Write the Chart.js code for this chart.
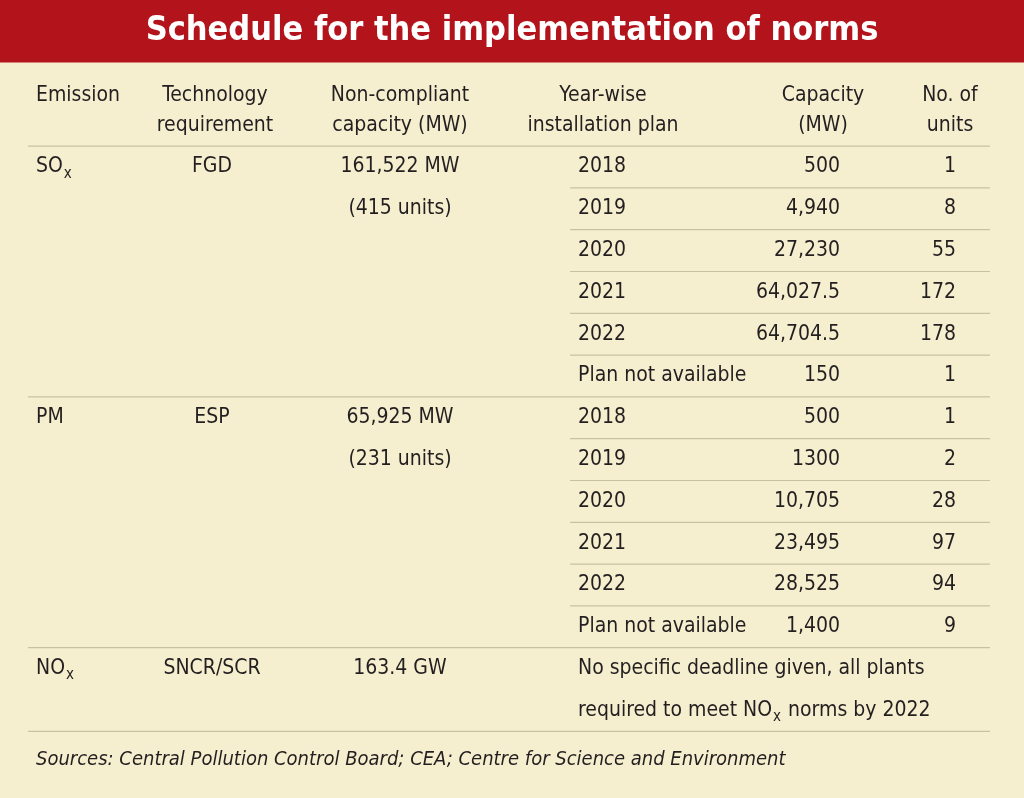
<!DOCTYPE html>
<html>
<head>
<meta charset="utf-8">
<script src="https://cdn.jsdelivr.net/npm/chart.js@4/dist/chart.umd.min.js"></script>
<style>
  html, body { margin: 0; padding: 0; background: #f6efcf; }
  #wrap { width: 1024px; height: 798px; }
</style>
</head>
<body>
<div id="wrap"><canvas id="table" width="1024" height="798"></canvas></div>
<script>
// Table content
const title = 'Schedule for the implementation of norms';
const headers = [
    ['Emission'], ['Technology', 'requirement'], ['Non-compliant', 'capacity (MW)'],
    ['Year-wise', 'installation plan'], ['Capacity', '(MW)'], ['No. of', 'units']
];
const groups = [
    { emission: ['SO', 'x'], tech: 'FGD', capacity: ['161,522 MW', '(415 units)'] },
    { emission: ['PM', ''], tech: 'ESP', capacity: ['65,925 MW', '(231 units)'] },
    { emission: ['NO', 'x'], tech: 'SNCR/SCR', capacity: ['163.4 GW'] }
];
const years = ['2018', '2019', '2020', '2021', '2022', 'Plan not available'];
const soxCapacity = ['500', '4,940', '27,230', '64,027.5', '64,704.5', '150'];
const soxUnits = ['1', '8', '55', '172', '178', '1'];
const pmCapacity = ['500', '1300', '10,705', '23,495', '28,525', '1,400'];
const pmUnits = ['1', '2', '28', '97', '94', '9'];
const noxNote = ['No specific deadline given, all plants', 'required to meet NO', 'x', ' norms by 2022'];
const source = 'Sources: Central Pollution Control Board; CEA; Centre for Science and Environment';

const FONT = "'Liberation Sans Narrow', 'DejaVu Sans Condensed', 'Roboto', sans-serif";
const INK = '#231f20';
const RULE = '#c9c1a0';

const tablePlugin = {
    id: 'tablePlugin',
    afterDraw(chart) {
        const ctx = chart.ctx;
        const xs = chart.scales.x, ys = chart.scales.y;
        const X = v => xs.getPixelForValue(v);
        const Y = v => ys.getPixelForValue(v);
        ctx.save();

        // title bar
        ctx.fillStyle = '#b3141c';
        ctx.fillRect(X(0), Y(-4), X(1024) - X(0), Y(-2.5) - Y(-4));
        ctx.fillStyle = '#ffffff';
        ctx.font = "bold 34px " + FONT;
        ctx.textAlign = 'center';
        ctx.textBaseline = 'middle';
        ctx.fillText(title, X(512), Y(-3.25));

        function text(s, x, v, align, font) {
            ctx.font = font || ('21px ' + FONT);
            ctx.fillStyle = INK;
            ctx.textAlign = align;
            ctx.textBaseline = 'middle';
            ctx.fillText(s, X(x), Y(v));
        }
        function sub(base, s, x, v) {
            text(base, x, v, 'left');
            const w = ctx.measureText(base).width;
            ctx.font = '15px ' + FONT;
            ctx.textAlign = 'left';
            ctx.fillText(s, X(x) + w + 1, Y(v) + 7);
        }
        function rule(v, x0, x1) {
            ctx.strokeStyle = RULE;
            ctx.lineWidth = 1.2;
            ctx.beginPath();
            ctx.moveTo(X(x0), Y(v));
            ctx.lineTo(X(x1), Y(v));
            ctx.stroke();
        }

        // headers
        const hx = [[36, 'left'], [215, 'center'], [400, 'center'], [603, 'center'], [823, 'center'], [950, 'center']];
        headers.forEach((h, i) => {
            h.forEach((line, j) => text(line, hx[i][0], -1.7 + j * 0.7, hx[i][1]));
        });
        rule(-0.5, 28, 990);

        // SOx and PM groups
        const blocks = [[soxCapacity, soxUnits], [pmCapacity, pmUnits]];
        blocks.forEach((b, g) => {
            const base = g * 6;
            const grp = groups[g];
            sub(grp.emission[0], grp.emission[1], 36, base);
            text(grp.tech, 212, base, 'center');
            grp.capacity.forEach((c, j) => text(c, 400, base + j, 'center'));
            years.forEach((yr, i) => {
                text(yr, 578, base + i, 'left');
                text(b[0][i], 840, base + i, 'right');
                text(b[1][i], 956, base + i, 'right');
                if (i < years.length - 1) rule(base + i + 0.5, 570, 990);
            });
            rule(base + 5.5, 28, 990);
        });

        // NOx
        const nox = groups[2];
        sub(nox.emission[0], nox.emission[1], 36, 12);
        text(nox.tech, 212, 12, 'center');
        text(nox.capacity[0], 400, 12, 'center');
        text(noxNote[0], 578, 12, 'left');
        text(noxNote[1], 578, 13, 'left');
        const w = ctx.measureText(noxNote[1]).width;
        ctx.font = '15px ' + FONT;
        ctx.fillText(noxNote[2], X(578) + w + 1, Y(13) + 7);
        const w2 = ctx.measureText(noxNote[2]).width;
        ctx.font = '21px ' + FONT;
        ctx.fillText(noxNote[3], X(578) + w + w2 + 2, Y(13));
        rule(13.5, 28, 990);

        // source
        text(source, 36, 14.18, 'left', 'italic 20px ' + FONT);
        ctx.restore();
    }
};

new Chart(document.getElementById('table'), {
    type: 'scatter',
    data: { datasets: [{ data: [] }] },
    options: {
        responsive: false,
        animation: false,
        events: [],
        layout: { padding: 0 },
        plugins: { legend: { display: false }, tooltip: { enabled: false } },
        scales: {
            x: { type: 'linear', min: 0, max: 1024, display: false },
            y: { type: 'linear', min: -3.995, max: 15.096, reverse: true, display: false }
        }
    },
    plugins: [tablePlugin]
});
</script>
</body>
</html>
